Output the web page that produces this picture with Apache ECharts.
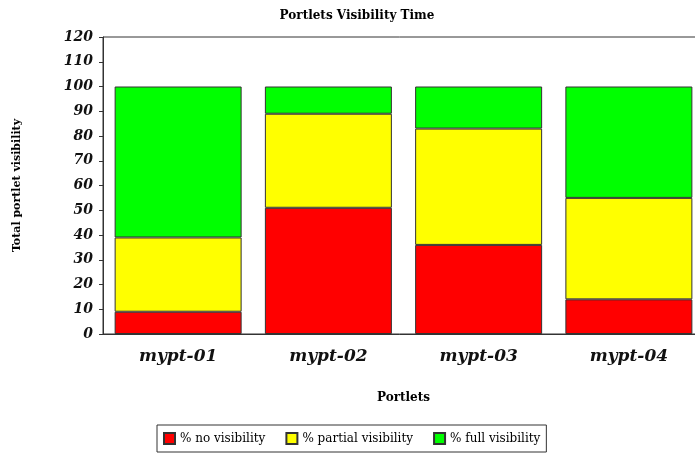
<!DOCTYPE html>
<html>
<head>
<meta charset="utf-8">
<script src="https://cdn.jsdelivr.net/npm/echarts@6/dist/echarts.min.js"></script>
<style>
  html, body { margin: 0; padding: 0; background: #fff; }
  #chart { width: 695px; height: 459px; }
</style>
</head>
<body>
<div id="chart"></div>
<script>
const categories = ['mypt-01', 'mypt-02', 'mypt-03', 'mypt-04']
const noVisibility = [9, 51, 36, 14]
const partialVisibility = [30, 38, 47, 41]
const fullVisibility = [61, 11, 17, 45]

const chart = echarts.init(document.getElementById('chart'))

const barStyle = (color) => ({
  color: color,
  borderColor: '#333',
  borderWidth: 1
})

chart.setOption({
  animation: false,
  title: {
    text: 'Portlets Visibility Time',
    left: 352,
    textAlign: 'center',
    top: 5,
    textStyle: {
      fontFamily: 'DejaVu Serif',
      fontWeight: 'bold',
      fontSize: 12,
      color: '#000'
    }
  },
  grid: {
    left: 103,
    width: 601,
    top: 37,
    height: 297,
    outerBoundsMode: 'none',
    containLabel: false,
    show: true,
    borderColor: '#333',
    borderWidth: 1
  },
  legend: {
    left: 157,
    top: 425,
    icon: 'rect',
    itemWidth: 11,
    itemHeight: 11,
    itemGap: 20,
    padding: [7, 6, 7, 6],
    borderColor: '#333',
    borderWidth: 1,
    borderRadius: 0,
    textStyle: {
      fontFamily: 'DejaVu Serif',
      fontSize: 12,
      color: '#000'
    }
  },
  xAxis: {
    type: 'category',
    data: categories,
    name: 'Portlets',
    nameLocation: 'middle',
    nameGap: 58,
    nameTextStyle: {
      fontFamily: 'DejaVu Serif',
      fontWeight: 'bold',
      fontSize: 12,
      color: '#000'
    },
    axisLine: { lineStyle: { color: '#333' } },
    axisTick: { alignWithLabel: true, length: 4, lineStyle: { color: '#333' } },
    axisLabel: {
      margin: 14,
      fontFamily: 'DejaVu Serif',
      fontStyle: 'italic',
      fontWeight: 'bold',
      fontSize: 17,
      color: '#111'
    }
  },
  yAxis: {
    type: 'value',
    min: 0,
    max: 120,
    interval: 10,
    name: 'Total portlet visibility',
    nameLocation: 'middle',
    nameGap: 80,
    nameTextStyle: {
      fontFamily: 'DejaVu Serif',
      fontWeight: 'bold',
      fontSize: 11,
      color: '#000'
    },
    splitLine: { show: false },
    axisLine: { show: true, lineStyle: { color: '#333' } },
    axisTick: { show: true, length: 4, lineStyle: { color: '#333' } },
    axisLabel: {
      margin: 10,
      fontFamily: 'DejaVu Serif',
      fontStyle: 'italic',
      fontWeight: 'bold',
      fontSize: 14,
      color: '#111'
    }
  },
  series: [
    {
      name: '% no visibility',
      type: 'bar',
      stack: 'total',
      barWidth: 127,
      data: noVisibility,
      itemStyle: barStyle('#ff0000')
    },
    {
      name: '% partial visibility',
      type: 'bar',
      stack: 'total',
      data: partialVisibility,
      itemStyle: barStyle('#ffff00')
    },
    {
      name: '% full visibility',
      type: 'bar',
      stack: 'total',
      data: fullVisibility,
      itemStyle: barStyle('#00ff00')
    }
  ]
})
</script>
</body>
</html>
